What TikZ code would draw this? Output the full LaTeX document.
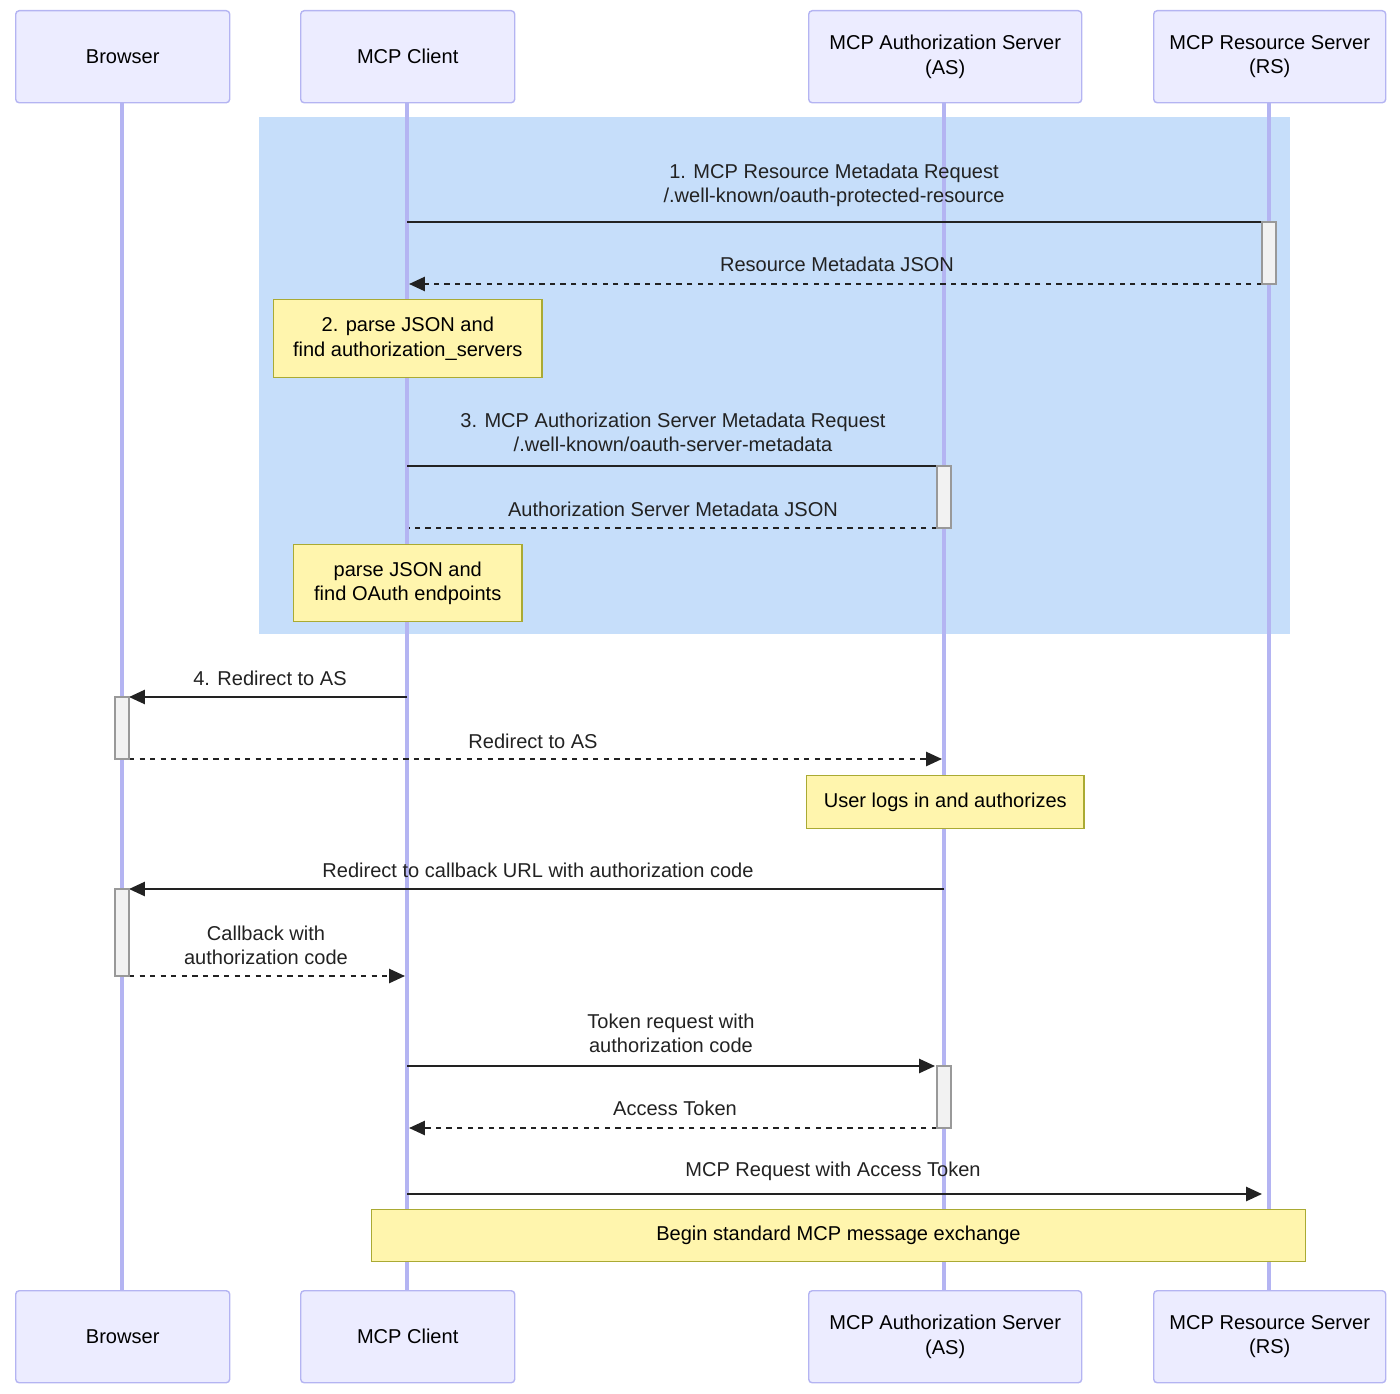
\documentclass[tikz,border=0pt]{standalone}
\usepackage{fontspec}
\setmainfont{Liberation Sans}
\usetikzlibrary{arrows.meta}
\definecolor{actfill}{HTML}{ECECFF}
\definecolor{actline}{HTML}{B4B4F2}
\definecolor{notefill}{HTML}{FFF5AD}
\definecolor{noteline}{HTML}{AAAA33}
\definecolor{boxblue}{HTML}{C6DEFA}
\definecolor{txt}{HTML}{222222}
\tikzset{
  actor/.style={draw=actline,fill=actfill,rounded corners=1pt,text=black,align=center,inner sep=0pt,anchor=north west},
  note/.style={draw=noteline,fill=notefill,text=black,align=center,inner sep=0pt,anchor=north west},
  msg/.style={line width=0.6pt,draw=txt,-{Triangle[length=4.5pt,width=4pt]}},
  ret/.style={msg,dash pattern=on 1.5pt off 1.5pt},
  lbl/.style={text=txt,align=center,inner sep=0pt},
  act/.style={draw=gray!80,fill=gray!10,line width=0.4pt},
}
\begin{document}
\begin{tikzpicture}[x=0.01cm,y=-0.01cm,font=\fontsize{5.7}{6.9}\selectfont]
    \useasboundingbox (0,0) rectangle (1400,1394);
    \fill[boxblue] (259,117) rectangle (1290,634);

    % lifelines
    \foreach \n/\x in {br/122,cl/407,as/944,rs/1269}
      \draw[actline,line width=1pt] (\x,102) -- (\x,1290);

    % actors
    \foreach \n/\x/\w/\t in {br/15/214/Browser,cl/300/214/MCP Client,as/808/273/{MCP Authorization Server\\(AS)},rs/1153/232/{MCP Resource Server\\(RS)}}{
      \node[actor,minimum width=\w*0.01cm,minimum height=0.92cm] (\n top) at (\x,10) {\t};
      \node[actor,minimum width=\w*0.01cm,minimum height=0.92cm] (\n bot) at (\x,1290) {\t};
    }

    % message ends
    \coordinate (c1) at (407,222); \coordinate (r1) at (1262,222);
    \coordinate (c2) at (409,284); \coordinate (r2) at (1262,284);
    \coordinate (c3) at (407,466); \coordinate (a3) at (937,466);
    \coordinate (c4) at (409,528); \coordinate (a4) at (937,528);
    \coordinate (c5) at (407,697); \coordinate (b5) at (129,697);
    \coordinate (b6) at (129,759); \coordinate (a6) at (942,759);
    \coordinate (a7) at (944,889); \coordinate (b7) at (129,889);
    \coordinate (b8) at (129,976); \coordinate (c8) at (405,976);
    \coordinate (c9) at (407,1066); \coordinate (a9) at (935,1066);
    \coordinate (a10) at (937,1128); \coordinate (c10) at (409,1128);
    \coordinate (c11) at (407,1194); \coordinate (r11) at (1262,1194);

    \draw[msg,-] (c1) -- (r1);
    \draw[ret] (r2) -- (c2);
    \draw[msg,-] (c3) -- (a3);
    \draw[ret,-] (a4) -- (c4);
    \draw[msg] (c5) -- (b5);
    \draw[ret] (b6) -- (a6);
    \draw[msg] (a7) -- (b7);
    \draw[ret] (b8) -- (c8);
    \draw[msg] (c9) -- (a9);
    \draw[ret] (a10) -- (c10);
    \draw[msg] (c11) -- (r11);

    % activations
    \draw[act] (1262,222) rectangle (1276,284);
    \draw[act] (937,466) rectangle (951,528);
    \draw[act] (937,1066) rectangle (951,1128);
    \draw[act] (115,697) rectangle (129,759);
    \draw[act] (115,889) rectangle (129,976);

    % labels
    \node[lbl] (l1) at (834,185) {1. MCP Resource Metadata Request\\/.well-known/oauth-protected-resource};
    \node[lbl] (l2) at (837,264) {Resource Metadata JSON};
    \node[lbl] (l3) at (673,432) {3. MCP Authorization Server Metadata Request\\/.well-known/oauth-server-metadata};
    \node[lbl] (l4) at (673,509) {Authorization Server Metadata JSON};
    \node[lbl] (l5) at (270,678) {4. Redirect to AS};
    \node[lbl] (l6) at (533,741) {Redirect to AS};
    \node[lbl] (l7) at (538,870) {Redirect to callback URL with authorization code};
    \node[lbl] (l8) at (266,945) {Callback with\\authorization code};
    \node[lbl] (l9) at (671,1033) {Token request with\\authorization code};
    \node[lbl] (l10) at (675,1108) {Access Token};
    \node[lbl] (l11) at (833,1171) {MCP Request with Access Token};

    % notes
    \node[note,minimum width=2.68cm,minimum height=0.78cm] (n1) at (273,299) {2. parse JSON and\\find authorization\_servers};
    \node[note,minimum width=2.28cm,minimum height=0.77cm] (n2) at (293,544) {parse JSON and\\find OAuth endpoints};
    \node[note,minimum width=2.77cm,minimum height=0.53cm] (n3) at (806,775) {User logs in and authorizes};
    \node[note,minimum width=9.33cm,minimum height=0.52cm] (n4) at (371,1209) {Begin standard MCP message exchange};
\end{tikzpicture}
\end{document}
